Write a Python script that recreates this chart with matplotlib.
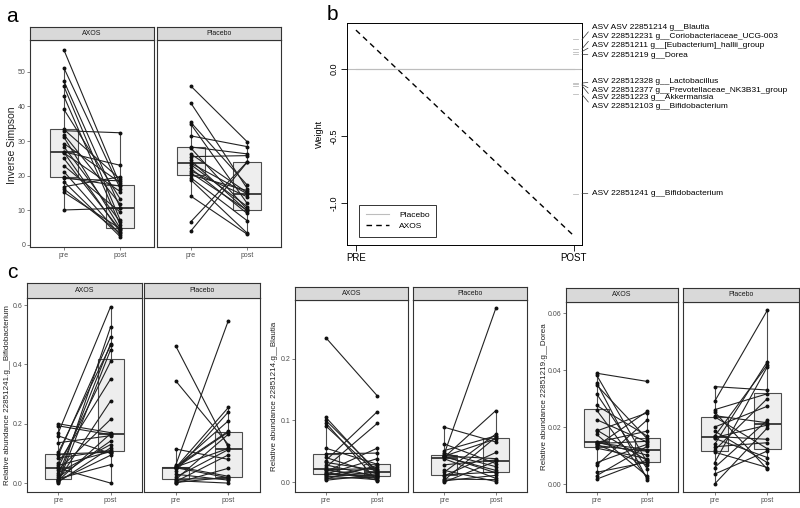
import numpy as np
import matplotlib.pyplot as plt

plt.rcParams['font.family'] = ['Liberation Sans', 'DejaVu Sans']

W, H = 800, 508
fig = plt.figure(figsize=(8, 5.08), dpi=100)

# ---- panel a: Inverse Simpson (paired pre / post) ----
a_axos_pre = [56.4, 51.2, 47.4, 45.9, 43.0, 39.2, 33.4, 33.0, 31.9, 31.2, 29.3, 28.4, 26.9,
              26.8, 26.6, 25.0, 22.9, 21.2, 19.5, 19.2, 18.3, 16.8, 16.2, 15.2, 10.1]
a_axos_post = [17.3, 16.3, 10.8, 7.2, 5.8, 13.3, 19.0, 32.4, 11.8, 4.8, 18.0, 6.7, 23.0,
               3.7, 15.4, 4.3, 9.5, 2.9, 17.0, 18.5, 2.4, 19.7, 3.4, 4.7, 10.6]
a_plac_pre = [45.9, 41.0, 35.4, 34.9, 31.5, 28.3, 28.0, 26.3, 25.5, 24.4, 23.6, 23.2, 22.1,
              21.4, 20.8, 20.2, 19.4, 18.8, 14.1, 6.7, 4.0]
a_plac_post = [29.8, 16.3, 17.3, 12.0, 28.4, 26.3, 10.3, 15.1, 25.8, 9.8, 14.8, 11.1, 9.1,
               13.9, 10.0, 15.7, 7.0, 3.4, 3.1, 24.0, 23.9]

# ---- panel b: weights ----
time_labels = ['PRE', 'POST']
placebo_w = [0.0, 0.0]
axos_w = [0.29, -1.245]
asv_names = ['ASV ASV 22851214 g__Blautia',
             'ASV 228512231 g__Coriobacteriaceae_UCG-003',
             'ASV 22851211 g__[Eubacterium]_hallii_group',
             'ASV 22851219 g__Dorea',
             'ASV 228512328 g__Lactobacillus',
             'ASV 228512377 g__Prevotellaceae_NK3B31_group',
             'ASV 22851223 g__Akkermansia',
             'ASV 228512103 g__Bifidobacterium',
             'ASV 22851241 g__Bifidobacterium']
asv_w = [0.22, 0.15, 0.13, 0.11, -0.105, -0.115, -0.125, -0.19, -0.93]
asv_label_y = [0.31, 0.239, 0.172, 0.104, -0.097, -0.157, -0.216, -0.28, -0.93]

# ---- panel c: relative abundances ----
bif_axos_pre = [0.002, 0.004, 0.006, 0.008, 0.009, 0.011, 0.015, 0.02, 0.028, 0.035, 0.045, 0.05,
                0.054, 0.06, 0.068, 0.085, 0.095, 0.098, 0.104, 0.136, 0.159, 0.17, 0.193, 0.2]
bif_axos_post = [0.45, 0.119, 0.527, 0.094, 0.167, 0.277, 0.062, 0.142, 0.47, 0.13, 0.215, 0.0,
                 0.41, 0.106, 0.351, 0.110, 0.493, 0.104, 0.464, 0.160, 0.100, 0.595, 0.163, 0.17]
bif_plac_pre = [0.0, 0.002, 0.005, 0.008, 0.012, 0.014, 0.02, 0.03, 0.04, 0.051, 0.052, 0.052,
                0.053, 0.054, 0.055, 0.056, 0.06, 0.115, 0.345, 0.463]
bif_plac_post = [0.05, 0.02, 0.095, 0.0, 0.165, 0.015, 0.113, 0.01, 0.24, 0.172, 0.018, 0.255,
                 0.21, 0.117, 0.175, 0.023, 0.548, 0.08, 0.13, 0.12]

bla_axos_pre = [0.003, 0.005, 0.006, 0.008, 0.010, 0.011, 0.0125, 0.013, 0.015, 0.017, 0.019,
                0.020, 0.021, 0.024, 0.028, 0.032, 0.035, 0.04, 0.046, 0.055, 0.091, 0.096,
                0.1, 0.105, 0.234]
bla_axos_post = [0.012, 0.027, 0.008, 0.016, 0.004, 0.024, 0.010, 0.038, 0.006, 0.055, 0.011,
                 0.022, 0.003, 0.095, 0.009, 0.019, 0.114, 0.013, 0.047, 0.029, 0.014, 0.002,
                 0.018, 0.015, 0.14]
bla_plac_pre = [0.0, 0.002, 0.003, 0.005, 0.010, 0.0115, 0.016, 0.019, 0.028, 0.038, 0.040,
                0.041, 0.042, 0.0422, 0.0425, 0.045, 0.047, 0.051, 0.062, 0.089]
bla_plac_post = [0.034, 0.011, 0.073, 0.004, 0.048, 0.0165, 0.078, 0.001, 0.036, 0.006, 0.116,
                 0.019, 0.070, 0.015, 0.038, 0.282, 0.025, 0.075, 0.03, 0.065]

dor_axos_pre = [0.0017, 0.0029, 0.0041, 0.0066, 0.0075, 0.0126, 0.0133, 0.0135, 0.0139, 0.0142,
                0.0145, 0.0146, 0.0148, 0.0174, 0.0186, 0.019, 0.0226, 0.026, 0.0276, 0.0317,
                0.0348, 0.0356, 0.0383, 0.0389]
dor_axos_post = [0.0085, 0.0133, 0.0077, 0.0226, 0.0140, 0.0089, 0.0256, 0.0115, 0.0066, 0.0150,
                 0.0121, 0.0186, 0.0101, 0.0027, 0.025, 0.0082, 0.0147, 0.002, 0.0168, 0.0052,
                 0.0158, 0.0015, 0.0075, 0.036]
dor_plac_pre = [0.0, 0.0035, 0.0058, 0.0075, 0.0112, 0.0119, 0.0131, 0.0139, 0.016, 0.0163,
                0.0167, 0.0168, 0.0186, 0.02, 0.0236, 0.024, 0.0253, 0.0261, 0.029, 0.0342]
dor_plac_post = [0.0197, 0.0116, 0.0224, 0.0412, 0.0058, 0.0300, 0.0145, 0.043, 0.0093, 0.0207,
                 0.0157, 0.0418, 0.0075, 0.0273, 0.0124, 0.0215, 0.0052, 0.0317, 0.061, 0.033]

groups = ['AXOS', 'Placebo']


def px_axes(x0, y0, x1, y1):
    return fig.add_axes([x0 / W, 1 - y1 / H, (x1 - x0) / W, (y1 - y0) / H])


def facet(x0, x1, y0, y1, strip, pre, post, ylim, title, yticks=None, ylabels=None):
    ax = px_axes(x0, y0, x1, y1)
    st = px_axes(x0, y0 - strip, x1, y0)
    st.set_xticks([])
    st.set_yticks([])
    st.set_facecolor('#D9D9D9')
    for s in st.spines.values():
        s.set_color('#333333')
        s.set_linewidth(0.8)
    st.text(0.5, 0.5, title, ha='center', va='center', fontsize=5, color='#1A1A1A',
            transform=st.transAxes)

    ax.boxplot([pre, post], positions=[1, 2], widths=0.5, showfliers=False,
               showcaps=False, patch_artist=True,
               boxprops=dict(facecolor='#EEEEEE', edgecolor='#4D4D4D', linewidth=0.8),
               whiskerprops=dict(color='#4D4D4D', linewidth=0.8),
               medianprops=dict(color='#333333', linewidth=1.3), zorder=1)
    for p, q in zip(pre, post):
        ax.plot([1, 2], [p, q], color='#222222', lw=0.8, zorder=3)
    ax.scatter([1] * len(pre), pre, s=8, color='#111111', zorder=4, linewidths=0)
    ax.scatter([2] * len(post), post, s=8, color='#111111', zorder=4, linewidths=0)
    ax.set_xlim(0.4, 2.6)
    ax.set_ylim(ylim)
    ax.set_xticks([1, 2])
    ax.set_xticklabels(['pre', 'post'])
    for s in ax.spines.values():
        s.set_color('#333333')
        s.set_linewidth(0.8)
    ax.tick_params(labelsize=5, colors='#4D4D4D', length=2, width=0.5, pad=1.5)
    if yticks is None:
        ax.tick_params(left=False, labelleft=False)
    else:
        ax.set_yticks(yticks)
        ax.set_yticklabels(ylabels)
    return ax


# panel a
facet(30, 154, 40, 247, 13, a_axos_pre, a_axos_post, (-0.6, 59.2), groups[0],
      [0, 10, 20, 30, 40, 50], ['0', '10', '20', '30', '40', '50'])
facet(157, 281, 40, 247, 13, a_plac_pre, a_plac_post, (-0.6, 59.2), groups[1])
fig.text(12 / W, 1 - 145 / H, 'Inverse Simpson', rotation=90, ha='center', va='center',
         fontsize=7.5, color='#222222')

# panel c
facet(27, 142, 298, 492, 15, bif_axos_pre, bif_axos_post, (-0.03, 0.624), groups[0],
      [0, 0.2, 0.4, 0.6], ['0.0', '0.2', '0.4', '0.6'])
facet(144, 260, 298, 492, 15, bif_plac_pre, bif_plac_post, (-0.03, 0.624), groups[1])
fig.text(8 / W, 1 - 395 / H, 'Relative abundance 22851241.g__Bifidobacterium', rotation=90,
         ha='center', va='center', fontsize=5.8, color='#222222')

facet(295, 408, 300, 492, 13, bla_axos_pre, bla_axos_post, (-0.016, 0.295), groups[0],
      [0, 0.1, 0.2], ['0.0', '0.1', '0.2'])
facet(413, 527, 300, 492, 13, bla_plac_pre, bla_plac_post, (-0.016, 0.295), groups[1])
fig.text(275 / W, 1 - 396 / H, 'Relative abundance 22851214.g__Blautia', rotation=90,
         ha='center', va='center', fontsize=5.8, color='#222222')

facet(566, 678, 302, 492, 14, dor_axos_pre, dor_axos_post, (-0.0028, 0.0639), groups[0],
      [0, 0.02, 0.04, 0.06], ['0.00', '0.02', '0.04', '0.06'])
facet(683, 799, 302, 492, 14, dor_plac_pre, dor_plac_post, (-0.0028, 0.0639), groups[1])
fig.text(544 / W, 1 - 397 / H, 'Relative abundance 22851219.g__Dorea', rotation=90,
         ha='center', va='center', fontsize=5.8, color='#222222')

# panel b
axb = px_axes(347, 23, 582, 245)
tx = [1, 2]
axb.plot(tx, placebo_w, color='#BDBDBD', lw=0.8, label='Placebo')
axb.plot(tx, axos_w, color='black', lw=1.0, ls=(0, (4, 3)), label='AXOS')
axb.axhline(0, color='#BDBDBD', lw=0.8)
axb.set_xlim(0.959, 2.037)
axb.set_ylim(-1.313, 0.343)
axb.set_xticks(tx)
axb.set_xticklabels(time_labels, fontsize=7)
axb.set_yticks([0, -0.5, -1.0])
axb.set_yticklabels(['0.0', '-0.5', '-1.0'], rotation=90, va='center', fontsize=6.5)
axb.tick_params(length=4, width=0.6, pad=2)
axb.set_ylabel('Weight', fontsize=6.5, labelpad=4)
for s in axb.spines.values():
    s.set_linewidth(0.7)
leg = axb.legend(loc='lower left', bbox_to_anchor=(0.034, 0.018), fontsize=6,
                 frameon=True, fancybox=False, edgecolor='black', handlelength=2.8,
                 borderpad=0.8, labelspacing=0.4, handletextpad=1.2)
leg.get_frame().set_linewidth(0.7)

for name, w, ly in zip(asv_names, asv_w, asv_label_y):
    axb.plot([1.995, 2.02], [w, w], color='#BBBBBB', lw=0.6)
    axb.annotate(name, xy=(2.037, w), xytext=(2.083, ly), textcoords='data',
                 fontsize=6.0, va='center', ha='left', annotation_clip=False,
                 arrowprops=dict(arrowstyle='-', lw=0.5, color='#333333',
                                 shrinkA=1, shrinkB=0, relpos=(0, 0.5)))

# panel letters
fig.text(12 / W, 1 - 17 / H, 'a', fontsize=15, ha='center', va='center')
fig.text(332 / W, 1 - 15 / H, 'b', fontsize=15, ha='center', va='center')
fig.text(12 / W, 1 - 273 / H, 'c', fontsize=15, ha='center', va='center')

fig.savefig('out.png', dpi=100)
